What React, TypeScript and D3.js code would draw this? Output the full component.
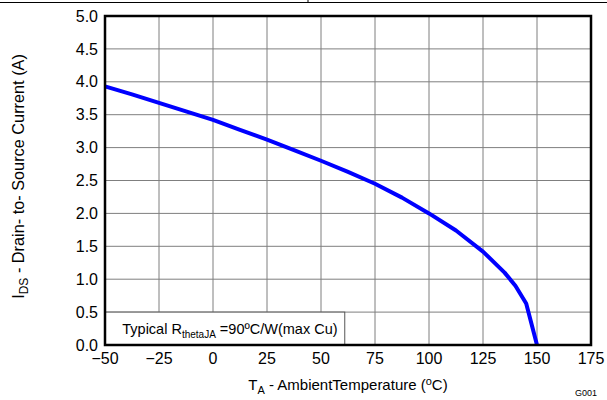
import React from "react";
import * as d3 from "d3";

const W = 607;
const H = 400;
const Margin = { top: 16, right: 16, bottom: 55, left: 105 };

// curve
const tempC = [-50, -37.5, -25, -12.5, 0, 12.5, 25, 37.5, 50, 62.5, 75, 87.5, 100, 112.5, 125, 135, 140, 145, 150];
const currentA = [3.93, 3.81, 3.68, 3.55, 3.42, 3.27, 3.12, 2.96, 2.8, 2.63, 2.45, 2.24, 2.0, 1.74, 1.42, 1.1, 0.9, 0.63, 0];

const xTicks = [-50, -25, 0, 25, 50, 75, 100, 125, 150, 175];
const yTicks = [0, 0.5, 1, 1.5, 2, 2.5, 3, 3.5, 4, 4.5, 5];

const FONT = "'Liberation Sans', Arial, sans-serif";

const App = () => {
  const x = d3
    .scaleLinear()
    .domain([-50, 175])
    .range([Margin.left, W - Margin.right]);
  const y = d3
    .scaleLinear()
    .domain([0, 5])
    .range([H - Margin.bottom, Margin.top]);

  const line = d3
    .line<number>()
    .x((d, i) => x(tempC[i]))
    .y((d) => y(d));

  const fmtX = (v: number) => (v < 0 ? "\u2212" + Math.abs(v) : String(v));

  return (
    <svg
      width={W}
      height={H}
      style={{ position: "absolute", left: 0, top: 0, background: "#fff" }}
    >
      {/* scrap of the table border above the figure */}
      <line x1={0} y1={2.5} x2={W} y2={2.5} stroke="#000" strokeWidth={1} />
      <line x1={308} y1={0} x2={308} y2={3} stroke="#000" strokeWidth={1} />

      {/* grid */}
      {xTicks.slice(1, -1).map((t) => (
        <line
          key={"gx" + t}
          x1={x(t)}
          x2={x(t)}
          y1={y(5)}
          y2={y(0)}
          stroke="#7f7f7f"
          strokeWidth={1}
        />
      ))}
      {yTicks.slice(1, -1).map((t) => (
        <line
          key={"gy" + t}
          x1={x(-50)}
          x2={x(175)}
          y1={y(t)}
          y2={y(t)}
          stroke="#7f7f7f"
          strokeWidth={1}
        />
      ))}

      {/* legend box sits on top of the grid */}
      <rect
        x={x(-50)}
        y={y(0.5)}
        width={x(61) - x(-50)}
        height={y(0) - y(0.5)}
        fill="#fff"
        stroke="#555"
        strokeWidth={1}
      />
      <text x={x(-42)} y={y(0.5) + 22} fontFamily={FONT} fontSize={14.5} fill="#000">
        Typical R
        <tspan fontSize={10} dy={4}>thetaJA</tspan>
        <tspan dy={-4}> =90ºC/W(max Cu)</tspan>
      </text>

      {/* curve */}
      <path
        d={line(currentA) || ""}
        fill="none"
        stroke="#0000ff"
        strokeWidth={4}
        strokeLinejoin="round"
      />

      {/* frame */}
      <rect
        x={x(-50)}
        y={y(5)}
        width={x(175) - x(-50)}
        height={y(0) - y(5)}
        fill="none"
        stroke="#000"
        strokeWidth={2.5}
      />

      {/* tick labels */}
      {yTicks.map((t) => (
        <text
          key={"ty" + t}
          x={x(-50) - 7}
          y={y(t)}
          dy="0.35em"
          textAnchor="end"
          fontFamily={FONT}
          fontSize={16}
        >
          {t.toFixed(1)}
        </text>
      ))}
      {xTicks.map((t) => (
        <text
          key={"tx" + t}
          x={x(t)}
          y={y(0) + 19}
          textAnchor="middle"
          fontFamily={FONT}
          fontSize={16}
        >
          {fmtX(t)}
        </text>
      ))}

      {/* axis titles */}
      <text
        x={(x(-50) + x(175)) / 2}
        y={390}
        textAnchor="middle"
        fontFamily={FONT}
        fontSize={15}
      >
        T<tspan fontSize={11} dy={4}>A</tspan>
        <tspan dy={-4}> - AmbientTemperature (</tspan>
        <tspan fontSize={11} dy={-5}>o</tspan>
        <tspan dy={5}>C)</tspan>
      </text>
      <text
        transform={`translate(24, ${(y(0) + y(5)) / 2 - 4}) rotate(-90)`}
        textAnchor="middle"
        fontFamily={FONT}
        fontSize={16.3}
      >
        I<tspan fontSize={12} dy={4}>DS</tspan>
        <tspan dy={-4}> - Drain- to- Source Current (A)</tspan>
      </text>

      <text x={575} y={396} fontFamily={FONT} fontSize={9}>
        G001
      </text>
    </svg>
  );
};

export default App;
